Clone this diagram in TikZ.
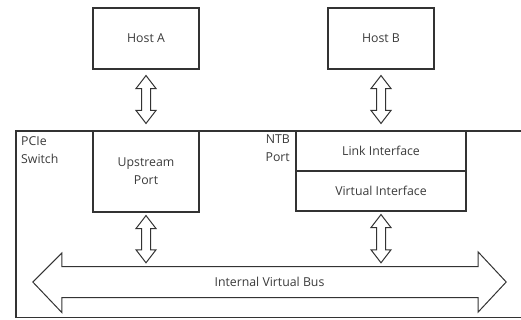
\documentclass[tikz,border=0pt]{standalone}
\usepackage{fontspec}
\setmainfont{Open Sans}
\usetikzlibrary{calc}
\definecolor{ln}{HTML}{333333}
\definecolor{tx}{HTML}{3A3A3A}
\begin{document}
\begin{tikzpicture}[x=1pt,y=-1pt,
  box/.style={draw=ln,line width=1.1pt,minimum width=106pt,minimum height=61pt,inner sep=0pt,font=\fontsize{12.3}{18}\selectfont,text=tx,align=center},
  lbl/.style={font=\fontsize{12.3}{18}\selectfont,text=tx,inner sep=0pt},
  arr/.style={draw=ln,line width=1pt,fill=white,line join=miter}]
\useasboundingbox (0,0) rectangle (521,320);
% switch outline (right side beyond picture edge)
\draw[ln,line width=1.1pt] (522,131) -- (16,131) -- (16,317.5) -- (522,317.5);
\node[box] (hostA) at (146,38.5) {Host A};
\node[box] (hostB) at (381,38.5) {Host B};
\node[box,minimum height=81pt] (up) at (146,171.5) {Upstream\\Port};
\node[box,minimum width=170pt,minimum height=40pt] (link) at (381,151) {Link Interface};
\node[box,minimum width=170pt,minimum height=40pt] (virt) at (381,191) {Virtual Interface};
\node[lbl,anchor=north west,align=left] (pcie) at (21,136) {PCIe\\Switch};
\node[lbl,anchor=north east,align=right] (ntb) at (290,135) {NTB\\Port};
% bus
\node[lbl,minimum width=473pt,minimum height=31pt] (bus) at (269.5,282) {Internal Virtual Bus};
\path let \p1=(bus.west), \p2=(bus.east) in
  coordinate (bl) at (\x1,\y1) coordinate (br) at (\x2,\y2);
\draw[arr] (bl) -- ++(29,-29) -- ++(0,13.5) -- ($(br)+(-28,-15.5)$) -- ++(0,-14.5)
  -- (br) -- ++(-28,30) -- ++(0,-14.5) -- ($(bl)+(29,15.5)$) -- ++(0,15) -- cycle;
\node[lbl] at (bus) {Internal Virtual Bus};
% vertical double arrows: #1 from, #2 to, #3 gap at top, #4 gap at bottom
\newcommand{\vdarr}[4]{%
  \draw[arr] ($(#1)+(0,#3)$) coordinate (t) -- ++(10,13) -- ++(-5.5,0) -- ($(#2)+(4.5,-13-#4)$)
   -- ++(5.5,0) -- ($(#2)+(0,-#4)$) -- ++(-10,-13) -- ++(5.5,0) -- ($(t)+(-4.5,13)$) -- ++(-5.5,0) -- cycle;}
\vdarr{hostA.south}{up.north}{6}{7}
\vdarr{hostB.south}{link.north}{6}{7}
\path let \p1=(up.south), \p2=(bus.north) in coordinate (a1) at (\x1,\y1) coordinate (a2) at (\x1,\y2);
\vdarr{a1}{a2}{3}{3.5}
\path let \p1=(virt.south), \p2=(bus.north) in coordinate (b1) at (\x1,\y1) coordinate (b2) at (\x1,\y2);
\vdarr{b1}{b2}{3}{3.5}
\end{tikzpicture}
\end{document}
